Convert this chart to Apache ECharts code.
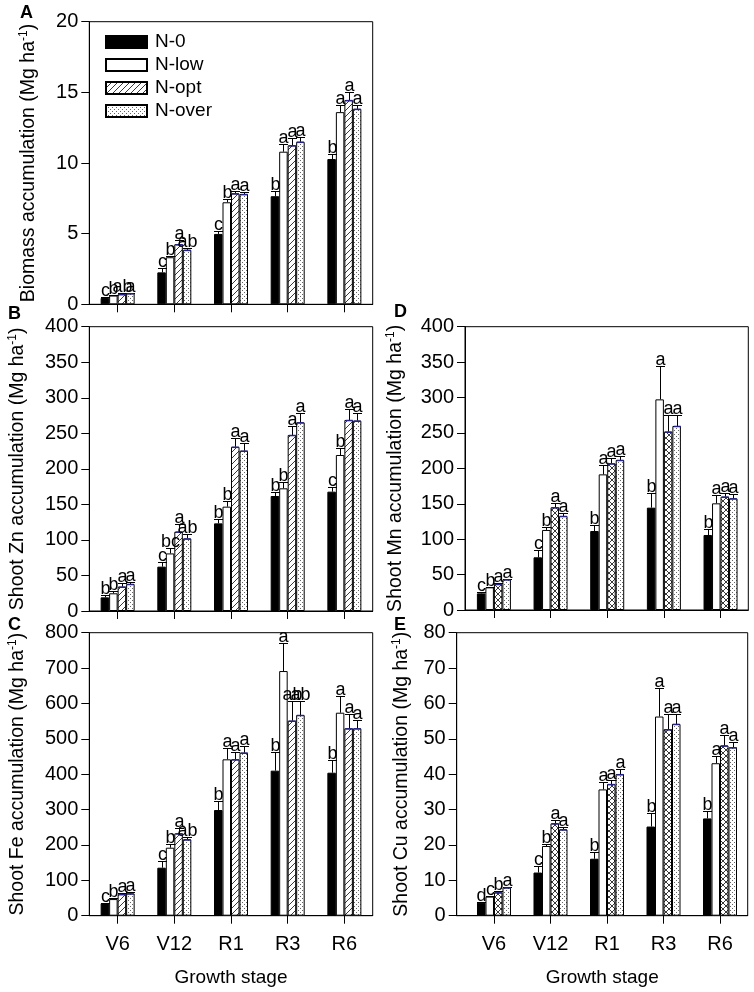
<!DOCTYPE html>
<html><head><meta charset="utf-8">
<script src="https://cdn.jsdelivr.net/npm/echarts@6/dist/echarts.min.js"></script>
<style>html,body{margin:0;padding:0;background:#fff}#c{width:754px;height:992px}</style>
</head><body><div id="c"></div>
<script>
const stages = ['V6', 'V12', 'R1', 'R3', 'R6'];
const treatments = ['N-0', 'N-low', 'N-opt', 'N-over'];

// Panel A: biomass (rows = N-0, N-low, N-opt, N-over; cols = stages)
const biomassMean = [[0.45, 2.26, 4.98, 7.65, 10.28], [0.62, 3.33, 7.22, 10.8, 13.6], [0.72, 4.25, 7.85, 11.25, 14.45], [0.78, 3.85, 7.8, 11.5, 13.83]];
const biomassErr = [[0.05, 0.28, 0.2, 0.38, 0.38], [0.03, 0.1, 0.2, 0.55, 0.47], [0.05, 0.33, 0.15, 0.5, 0.6], [0.05, 0.15, 0.15, 0.35, 0.3]];
const biomassLetters = [['c', 'c', 'c', 'b', 'b'], ['b', 'b', 'b', 'a', 'a'], ['ab', 'a', 'a', 'a', 'a'], ['a', 'ab', 'a', 'a', 'a']];
// Panel B: Zn
const znMean = [[19.2, 62.4, 123.3, 161.8, 167.9], [24.9, 81, 146.8, 172.6, 219.5], [34.2, 111.6, 231, 247.6, 268.7], [38, 102, 225.5, 265.4, 267.8]];
const znErr = [[3.3, 6, 6, 5, 7], [3, 7, 8, 9.5, 10.5], [4.8, 11.5, 12, 12.5, 16], [3.3, 7, 10.5, 13.5, 11]];
const znLetters = [['b', 'c', 'b', 'b', 'c'], ['b', 'bc', 'b', 'b', 'b'], ['a', 'a', 'a', 'a', 'a'], ['a', 'ab', 'a', 'a', 'a']];
// Panel C: Fe
const feMean = [[35, 135.7, 298.7, 410, 404.2], [47, 192.2, 442, 691.6, 573.8], [61, 232.7, 442, 551.2, 529.6], [63, 215.8, 460.8, 567.3, 529.6]];
const feErr = [[2, 19, 25, 52, 36], [2, 9.5, 31, 78, 47], [4, 16, 20, 56, 40], [5, 7.5, 19, 40, 23]];
const feLetters = [['c', 'c', 'b', 'b', 'b'], ['b', 'b', 'a', 'a', 'a'], ['a', 'a', 'a', 'ab', 'a'], ['a', 'ab', 'a', 'ab', 'a']];
// Panel D: Mn
const mnMean = [[23.5, 74.4, 111.5, 144.5, 105.9], [32, 113, 191.5, 297.4, 150.6], [36.7, 145, 207, 251.8, 160], [43.3, 132.7, 211.8, 259.8, 157.6]];
const mnErr = [[2.5, 10.3, 8.5, 21, 8.5], [1, 3.7, 13, 47, 12], [2, 6.5, 8, 24, 4.7], [1, 3.8, 6.2, 16, 5.7]];
const mnLetters = [['c', 'c', 'b', 'b', 'b'], ['b', 'b', 'a', 'a', 'a'], ['a', 'a', 'a', 'a', 'a'], ['a', 'a', 'a', 'a', 'a']];
// Panel E: Cu
const cuMean = [[3.7, 12.2, 16.1, 25.2, 27.5], [5.4, 19.7, 35.7, 56.3, 43.1], [6.6, 26.1, 37.2, 52.7, 48.1], [8.0, 24.4, 40, 54.2, 47.6]];
const cuErr = [[0.1, 1.8, 1.8, 3.9, 2.2], [0.2, 0.5, 2.2, 8.2, 2], [0.4, 0.9, 1.3, 4.2, 2.9], [0.2, 0.8, 1.6, 2.7, 1.6]];
const cuLetters = [['d', 'c', 'b', 'b', 'b'], ['c', 'b', 'a', 'a', 'a'], ['b', 'a', 'a', 'a', 'a'], ['a', 'a', 'a', 'a', 'a']];

const FONT = 'Liberation Sans, Arial, sans-serif';
const BW = 8.5;

function hatchCanvas(cross) {
  const s = 6, c = document.createElement('canvas'); c.width = s; c.height = s;
  const g = c.getContext('2d'); g.fillStyle = '#fff'; g.fillRect(0, 0, s, s);
  g.strokeStyle = '#3a3a3a'; g.lineWidth = 1; g.beginPath();
  g.moveTo(-1, s + 1); g.lineTo(s + 1, -1);
  g.moveTo(-1, 1); g.lineTo(1, -1); g.moveTo(s - 1, s + 1); g.lineTo(s + 1, s - 1);
  if (cross) { g.moveTo(-1, -1); g.lineTo(s + 1, s + 1); g.moveTo(-1, s - 1); g.lineTo(1, s + 1); g.moveTo(s - 1, -1); g.lineTo(s + 1, 1); }
  g.stroke(); return c;
}
function dotCanvas() {
  const c = document.createElement('canvas'); c.width = 4; c.height = 4;
  const g = c.getContext('2d'); g.fillStyle = '#fff'; g.fillRect(0, 0, 4, 4);
  g.fillStyle = '#666'; g.fillRect(0, 0, 1, 1); g.fillRect(2, 2, 1, 1); return c;
}
const hatch = { image: hatchCanvas(false), repeat: 'repeat' };
const cross = { image: hatchCanvas(true), repeat: 'repeat' };
const dots = { image: dotCanvas(), repeat: 'repeat' };

const panels = [
  { tag: 'A', mean: biomassMean, err: biomassErr, letters: biomassLetters, title: 'Biomass accumulation (Mg ha{sup|-1})', ymax: 20, step: 5,
    left: 89.3, top: 21.7, width: 283.4, height: 282.6, xmin: 0.5, xmax: 5.5, nameGap: 50, cross: false, labels: false, tagX: 27, tagY: 14 },
  { tag: 'B', mean: znMean, err: znErr, letters: znLetters, title: 'Shoot Zn accumulation (Mg ha{sup|-1})', ymax: 400, step: 50,
    left: 89.3, top: 326.7, width: 283.4, height: 284.3, xmin: 0.5, xmax: 5.5, nameGap: 61, cross: false, labels: false, tagX: 15, tagY: 315 },
  { tag: 'C', mean: feMean, err: feErr, letters: feLetters, title: 'Shoot Fe accumulation (Mg ha{sup|-1})', ymax: 800, step: 100,
    left: 89.3, top: 632.7, width: 283.4, height: 283, xmin: 0.5, xmax: 5.5, nameGap: 61, cross: false, labels: true, tagX: 15, tagY: 626 },
  { tag: 'D', mean: mnMean, err: mnErr, letters: mnLetters, title: 'Shoot Mn accumulation (Mg ha{sup|-1})', ymax: 400, step: 50,
    left: 465, top: 326.7, width: 283.3, height: 283.3, xmin: 0.49, xmax: 5.49, nameGap: 58, cross: true, labels: false, tagX: 401, tagY: 313 },
  { tag: 'E', mean: cuMean, err: cuErr, letters: cuLetters, title: 'Shoot Cu accumulation (Mg ha{sup|-1})', ymax: 80, step: 10,
    left: 456.7, top: 632.7, width: 291, height: 283, xmin: 0.34, xmax: 5.49, nameGap: 44, cross: true, labels: true, tagX: 401, tagY: 626 }
];

const grid = [], xAxis = [], yAxis = [], series = [], graphic = [];
const catVals = stages.map((s, i) => i + 1);

panels.forEach((p, pi) => {
  grid.push({ left: p.left, top: p.top, width: p.width, height: p.height, show: true, borderColor: '#000', borderWidth: 1, backgroundColor: 'transparent', containLabel: false });
  xAxis.push({
    type: 'value', gridIndex: pi, min: p.xmin, max: p.xmax,
    axisLine: { show: true, onZero: false, lineStyle: { color: '#000', width: 1 } },
    axisTick: { show: true, inside: false, length: 8, customValues: catVals, lineStyle: { color: '#000' } },
    axisLabel: { show: p.labels, customValues: catVals, margin: 19, fontSize: 20, color: '#000', fontFamily: FONT,
      formatter: v => stages[Math.round(v) - 1] || '' },
    splitLine: { show: false },
    name: p.labels ? 'Growth stage' : '', nameLocation: 'middle', nameGap: 53,
    nameTextStyle: { fontSize: 19, color: '#000', fontFamily: FONT }
  });
  yAxis.push({
    type: 'value', gridIndex: pi, min: 0, max: p.ymax, interval: p.step,
    axisLine: { show: true, lineStyle: { color: '#000', width: 1 } },
    axisTick: { show: true, inside: false, length: 8, lineStyle: { color: '#000' } },
    axisLabel: { margin: 11, fontSize: 20, color: '#000', fontFamily: FONT },
    splitLine: { show: false },
    name: p.title, nameLocation: 'middle', nameGap: p.nameGap,
    nameTextStyle: { fontSize: 19.5, color: '#000', fontFamily: FONT, lineHeight: 22,
      rich: { sup: { fontSize: 12, fontFamily: FONT, color: '#000', verticalAlign: 'top', lineHeight: 14 } } }
  });
  const fills = ['#000', '#fff', p.cross ? cross : hatch, dots];
  treatments.forEach((t, ti) => {
    series.push({
      type: 'bar', name: t, xAxisIndex: pi, yAxisIndex: pi, barWidth: BW, barGap: '0%',
      data: stages.map((s, i) => [i + 1, p.mean[ti][i]]),
      itemStyle: { color: fills[ti], borderColor: '#000', borderWidth: 1 },
      silent: true
    });
  });
  const edata = [];
  treatments.forEach((t, ti) => stages.forEach((s, i) => edata.push([i + 1, p.mean[ti][i], p.err[ti][i], ti])));
  series.push({
    type: 'custom', name: 'err' + p.tag, xAxisIndex: pi, yAxisIndex: pi, silent: true, z: 5,
    data: edata,
    renderItem: (params, api) => {
      const x = api.value(0), y = api.value(1), e = api.value(2), ti = api.value(3);
      const i = Math.round(x) - 1;
      const b = api.coord([x, y]), tp = api.coord([x, y + e]);
      const cx = Math.round(b[0] + (ti - 1.5) * BW) + 0.5;
      const ty = Math.round(tp[1]) + 0.5;
      const kids = [
        { type: 'line', shape: { x1: cx, y1: b[1], x2: cx, y2: ty }, style: { stroke: '#000', lineWidth: 1 } },
        { type: 'line', shape: { x1: cx - 4.5, y1: ty, x2: cx + 4.5, y2: ty }, style: { stroke: '#000', lineWidth: 1 } },
        { type: 'text', style: { text: p.letters[ti][i], x: cx, y: ty + 3, align: 'center', verticalAlign: 'bottom',
          textAlign: 'center', textVerticalAlign: 'bottom', fill: '#000', font: '18px ' + FONT } }
      ];
      if (ti >= 2) {
        kids.push({ type: 'line', shape: { x1: cx - BW / 2 + 0.5, y1: b[1] + 0.5, x2: cx + BW / 2 - 1, y2: b[1] + 0.5 }, style: { stroke: '#22228a', lineWidth: 1.5 } });
      }
      return { type: 'group', children: kids };
    }
  });
  graphic.push({ type: 'text', left: p.tagX - 7, top: p.tagY - 10, style: { text: p.tag, font: 'bold 18px ' + FONT, fill: '#000' } });
});

const chart = echarts.init(document.getElementById('c'), null, { renderer: 'canvas' });
chart.setOption({
  animation: false,
  backgroundColor: '#fff',
  grid, xAxis, yAxis, series, graphic,
  legend: {
    data: treatments, orient: 'vertical', left: 100, top: 27, icon: 'rect',
    itemWidth: 41, itemHeight: 12, itemGap: 3, selectedMode: false,
    textStyle: { fontSize: 19, color: '#000', fontFamily: FONT, lineHeight: 20, padding: [0, 0, 0, 3] }
  }
});
</script>
</body></html>
